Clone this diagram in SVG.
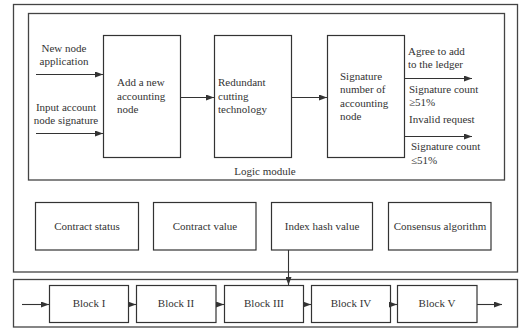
<svg xmlns="http://www.w3.org/2000/svg" width="519" height="329" viewBox="0 0 519 329">
<style>
.f{fill:none;stroke:#444;stroke-width:1.3}
.b{fill:#fff;stroke:#333;stroke-width:1.2}
.t{font-family:"Liberation Serif","Times New Roman",serif;font-size:11px;fill:#333}
.m{text-anchor:middle}
.c{fill:none;stroke:#333;stroke-width:1.1;marker-end:url(#ah)}
</style>
<defs>
<marker id="ah" viewBox="0 0 8 6" refX="8" refY="3" markerWidth="8" markerHeight="6" markerUnits="userSpaceOnUse" orient="auto">
<path d="M0,0 L8,3 L0,6 z" fill="#333"/>
</marker>
</defs>
<rect width="519" height="329" fill="#fff"/>
<g id="frames">
<rect class="f" x="13.5" y="4.5" width="504" height="267.5"/>
<rect class="f" x="28.5" y="13.5" width="476" height="166.5"/>
<text class="t m" x="265" y="175">Logic module</text>
<rect class="f" x="13.5" y="279.5" width="504" height="47.5"/>
</g>
<g id="inputs">
<text class="t m" x="64" y="52">New node</text>
<text class="t m" x="64" y="65">application</text>
<text class="t m" x="66" y="111">Input account</text>
<text class="t m" x="66" y="124">node signature</text>
</g>
<g id="add-node">
<rect class="b" x="103.5" y="35.5" width="77" height="122"/>
<text class="t" x="117" y="86">Add a new</text>
<text class="t" x="117" y="100">accounting</text>
<text class="t" x="117" y="113">node</text>
</g>
<g id="redundant">
<rect class="b" x="214.5" y="35.5" width="77" height="122"/>
<text class="t" x="218" y="86">Redundant</text>
<text class="t" x="218" y="100">cutting</text>
<text class="t" x="218" y="113">technology</text>
</g>
<g id="signature">
<rect class="b" x="327.5" y="35.5" width="77" height="122"/>
<text class="t" x="340" y="80">Signature</text>
<text class="t" x="340" y="93">number of</text>
<text class="t" x="340" y="107">accounting</text>
<text class="t" x="340" y="120">node</text>
</g>
<g id="outputs">
<text class="t" x="408" y="55">Agree to add</text>
<text class="t" x="408" y="68">to the ledger</text>
<text class="t" x="409" y="93">Signature count</text>
<text class="t" x="409" y="106">≥51%</text>
<text class="t" x="409" y="123">Invalid request</text>
<text class="t" x="411" y="150">Signature count</text>
<text class="t" x="411" y="164">≤51%</text>
</g>
<g id="contract-status">
<rect class="b" x="35.5" y="202.5" width="103" height="47.5"/>
<text class="t m" x="87" y="230">Contract status</text>
</g>
<g id="contract-value">
<rect class="b" x="153.5" y="202.5" width="102.5" height="47.5"/>
<text class="t m" x="205" y="230">Contract value</text>
</g>
<g id="index-hash">
<rect class="b" x="271.5" y="202.5" width="101" height="47.5"/>
<text class="t m" x="322" y="230">Index hash value</text>
</g>
<g id="consensus">
<rect class="b" x="388.5" y="202.5" width="102.5" height="47.5"/>
<text class="t m" x="440" y="230">Consensus algorithm</text>
</g>
<g id="block1">
<rect class="b" x="49.5" y="285.5" width="79" height="37"/>
<text class="t m" x="89" y="307">Block I</text>
</g>
<g id="block2">
<rect class="b" x="136.5" y="285.5" width="79.5" height="37"/>
<text class="t m" x="176" y="307">Block II</text>
</g>
<g id="block3">
<rect class="b" x="224.5" y="285.5" width="79" height="37"/>
<text class="t m" x="264" y="307">Block III</text>
</g>
<g id="block4">
<rect class="b" x="311.5" y="285.5" width="79" height="37"/>
<text class="t m" x="351" y="307">Block IV</text>
</g>
<g id="block5">
<rect class="b" x="397.5" y="285.5" width="79.5" height="37"/>
<text class="t m" x="437" y="307">Block V</text>
</g>
<g id="connectors">
<path class="c" d="M36,74.5 H103"/>
<path class="c" d="M36,133.5 H103"/>
<path class="c" d="M181,97.5 H214"/>
<path class="c" d="M292,97.5 H327"/>
<path class="c" d="M405,78.5 H472"/>
<path class="c" d="M405,136.5 H472"/>
<path class="c" d="M288.5,250 V285"/>
<path class="c" d="M22,304.5 H49"/>
<path class="c" d="M129,304.5 H136"/>
<path class="c" d="M216,304.5 H224"/>
<path class="c" d="M304,304.5 H311"/>
<path class="c" d="M391,304.5 H397"/>
<path class="c" d="M477,304.5 H502"/>
</g>
</svg>
